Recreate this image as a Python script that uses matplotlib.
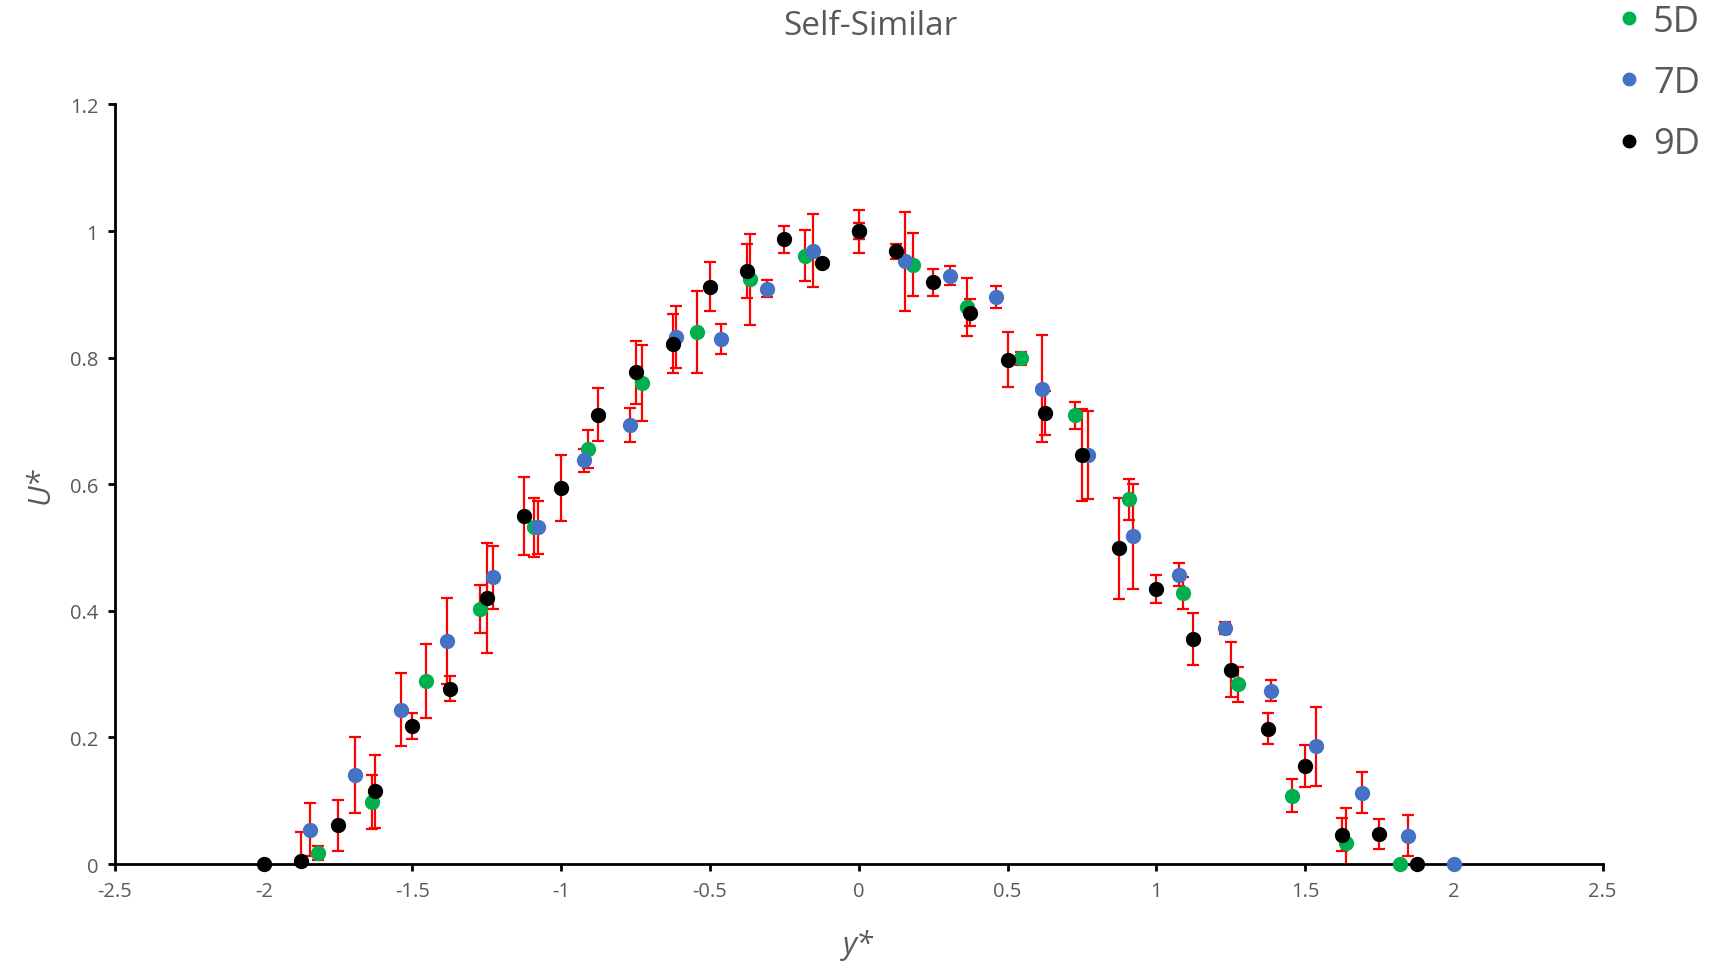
import matplotlib
matplotlib.use("Agg")
import matplotlib.pyplot as plt

plt.rcParams['font.family'] = ['Open Sans', 'DejaVu Sans']

# ---- data ----
x_5d = [-1.818, -1.636, -1.455, -1.273, -1.091, -0.909, -0.727, -0.545, -0.364, -0.182,
        0.0, 0.182, 0.364, 0.545, 0.727, 0.909, 1.091, 1.273, 1.455, 1.636, 1.818]
y_5d = [0.017, 0.098, 0.289, 0.403, 0.532, 0.656, 0.760, 0.841, 0.924, 0.961,
        1.0, 0.947, 0.880, 0.799, 0.709, 0.576, 0.428, 0.284, 0.108, 0.034, 0.0]
e_5d = [0.011, 0.043, 0.058, 0.038, 0.047, 0.030, 0.060, 0.065, 0.072, 0.040,
        0.013, 0.050, 0.046, 0.010, 0.021, 0.032, 0.025, 0.028, 0.026, 0.055, 0.0]

x_7d = [-1.846, -1.692, -1.538, -1.385, -1.231, -1.077, -0.923, -0.769, -0.615, -0.462,
        -0.308, -0.154, 0.0, 0.154, 0.308, 0.462, 0.615, 0.769, 0.923, 1.077,
        1.231, 1.385, 1.538, 1.692, 1.846, 2.0]
y_7d = [0.054, 0.141, 0.244, 0.353, 0.453, 0.532, 0.638, 0.694, 0.833, 0.829,
        0.909, 0.969, 1.0, 0.952, 0.929, 0.896, 0.751, 0.646, 0.518, 0.457,
        0.373, 0.274, 0.186, 0.113, 0.045, 0.0]
e_7d = [0.042, 0.060, 0.057, 0.068, 0.050, 0.042, 0.018, 0.027, 0.049, 0.024,
        0.014, 0.058, 0.013, 0.078, 0.015, 0.017, 0.084, 0.069, 0.083, 0.018,
        0.010, 0.017, 0.062, 0.033, 0.033, 0.0]

x_9d = [-2.0, -1.875, -1.75, -1.625, -1.5, -1.375, -1.25, -1.125, -1.0, -0.875,
        -0.75, -0.625, -0.5, -0.375, -0.25, -0.125, 0.0, 0.125, 0.25, 0.375,
        0.5, 0.625, 0.75, 0.875, 1.0, 1.125, 1.25, 1.375, 1.5, 1.625, 1.75, 1.875]
y_9d = [0.0, 0.005, 0.061, 0.115, 0.218, 0.277, 0.420, 0.550, 0.594, 0.710,
        0.777, 0.822, 0.912, 0.937, 0.987, 0.950, 1.0, 0.968, 0.919, 0.871,
        0.797, 0.712, 0.646, 0.499, 0.434, 0.355, 0.307, 0.214, 0.155, 0.046, 0.047, 0.0]
e_9d = [0.0, 0.046, 0.040, 0.058, 0.021, 0.020, 0.087, 0.062, 0.052, 0.042,
        0.050, 0.047, 0.039, 0.043, 0.021, 0.005, 0.034, 0.012, 0.021, 0.021,
        0.043, 0.035, 0.073, 0.080, 0.022, 0.041, 0.043, 0.025, 0.033, 0.026, 0.024, 0.0]

series = [("5D", x_5d, y_5d, e_5d, "#00B050"),
          ("7D", x_7d, y_7d, e_7d, "#4472C4"),
          ("9D", x_9d, y_9d, e_9d, "#000000")]

title = "Self-Similar"
xlabel = "y*"
ylabel = "U*"
xticks = [-2.5, -2, -1.5, -1, -0.5, 0, 0.5, 1, 1.5, 2, 2.5]
xticklabels = ["-2.5", "-2", "-1.5", "-1", "-0.5", "0", "0.5", "1", "1.5", "2", "2.5"]
yticks = [0, 0.2, 0.4, 0.6, 0.8, 1.0, 1.2]
yticklabels = ["0", "0.2", "0.4", "0.6", "0.8", "1", "1.2"]

grey = "#595959"

fig = plt.figure(figsize=(17.21, 9.62), dpi=100)
ax = fig.add_axes([0.0668, 0.1008, 0.9312 - 0.0668, 0.8904 - 0.1008])

# error bars first
for name, xs, ys, es, c in series:
    ax.errorbar(xs, ys, yerr=es, fmt='none', ecolor='#FF0000', elinewidth=1.6,
                capsize=4.5, capthick=1.6, zorder=2)

handles = []
for name, xs, ys, es, c in series:
    h, = ax.plot(xs, ys, linestyle='none', marker='o', markersize=10,
                 markerfacecolor=c, markeredgecolor=c, label=name, zorder=3,
                 clip_on=False)
    handles.append(h)

ax.set_xlim(-2.5, 2.5)
ax.set_ylim(0, 1.2)
ax.set_xticks(xticks)
ax.set_xticklabels(xticklabels)
ax.set_yticks(yticks)
ax.set_yticklabels(yticklabels)

for s in ['top', 'right']:
    ax.spines[s].set_visible(False)
for s in ['left', 'bottom']:
    ax.spines[s].set_linewidth(2.0)
    ax.spines[s].set_color('black')
ax.tick_params(axis='both', direction='out', length=5, width=2.0, color='black',
               labelsize=14.5, labelcolor=grey, pad=7)

ax.set_xlabel(xlabel, fontsize=22, style='italic', color=grey)
ax.xaxis.set_label_coords(0.5, -0.085)
ax.set_ylabel(ylabel, fontsize=22, style='italic', color=grey)
ax.yaxis.set_label_coords(-0.040, 0.5)

fig.text(0.5057, 0.972, title, ha='center', va='center', fontsize=24, color=grey)

leg = fig.legend(handles=handles, loc='upper left', bbox_to_anchor=(0.9216, 1.029),
                 frameon=False, fontsize=26, handlelength=0.6, handletextpad=0.35,
                 labelspacing=0.70, markerscale=0.9)
for t in leg.get_texts():
    t.set_color(grey)

fig.savefig("out.png", dpi=100)
